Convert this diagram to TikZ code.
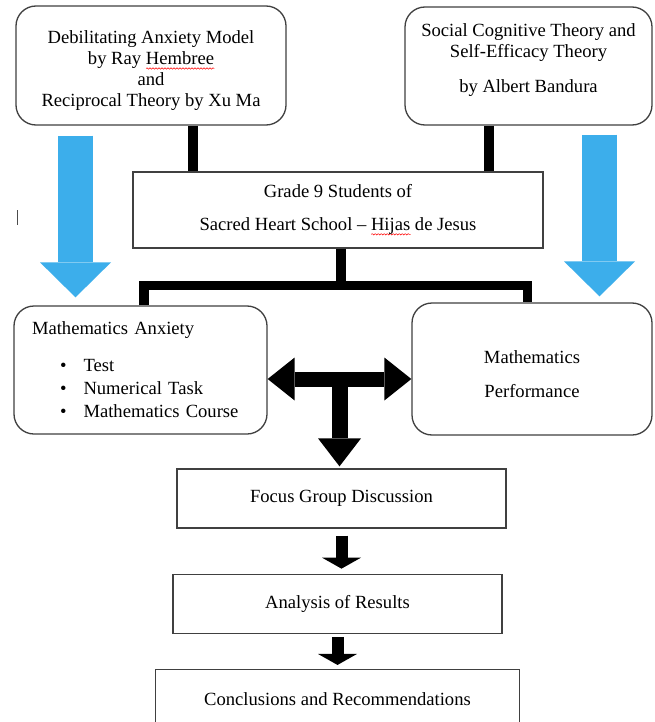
\documentclass[tikz,border=0pt]{standalone}
\usepackage{fontspec}
\setmainfont{Liberation Serif}
\usetikzlibrary{arrows.meta, calc, positioning, decorations.pathmorphing}
\definecolor{arrowblue}{RGB}{60,174,235}
\newsavebox{\spellbox}
\newcommand{\spellmark}[1]{\sbox{\spellbox}{#1}%
    \rlap{\tikz[baseline=0pt]\draw[red, sharp corners, line width=0.5pt, decorate, decoration={snake, amplitude=0.7pt, segment length=3pt}]
        (0pt,-3.5pt) -- (\wd\spellbox,-3.5pt);}\usebox{\spellbox}}
\tikzset{
        round box/.style={
		draw=black!75,
		line width=1.3pt,
		rounded corners=20pt,
		align=center,
		minimum width={#1},
	  },
        flat box/.style={
		draw=black!75,
		line width=1.3pt,
		align=center,
		minimum width={#1},
		minimum height=59pt,
	  },
        link/.style={line width=9.5pt}, % thick black joining bars
        sky arrow/.style={arrowblue, line width=35pt, -{Triangle[width=71pt, length=35pt, line width=0pt]}},
        fat link/.style={line width=15pt}, % the T shaped arrow
        flow arrow/.style={line width=12pt, -{Triangle[width=39pt, length=11pt, line width=0pt]}},
    }

\begin{document}
\begin{tikzpicture}[x=1pt, y=-1pt, every node/.style={font=\fontsize{18.6}{21}\selectfont}]
    \useasboundingbox[fill=white] (0,0) rectangle (654,722);

    % theories
    \node [round box=270pt, minimum height=119pt] (hembree) at (151,65.5)
        {\rule{0pt}{24pt}Debilitating Anxiety Model\\ by Ray \spellmark{Hembree}\\ and\\ Reciprocal Theory by Xu Ma};
    \node [round box=247pt, minimum height=118pt] (bandura) at (528.5,66)
        {Social Cognitive Theory and\\ Self-Efficacy Theory\\[14pt] by Albert Bandura\rule[-16pt]{0pt}{1pt}};

    % respondents
    \node [flat box=410pt, minimum height=76pt] (students) at (338,210)
        {Grade 9 Students of\\[12pt] Sacred Heart School -- \spellmark{Hijas} de Jesus};

    % variables
    \node [round box=253pt, minimum height=128pt, align=left, text width=217pt, inner xsep=18pt] (anxiety) at (140.5,370)
        {Mathematics Anxiety\\[16pt]
         \hspace*{28pt}\textbullet\hspace{17pt}Test\\[2pt]
         \hspace*{28pt}\textbullet\hspace{17pt}Numerical Task\\[2pt]
         \hspace*{28pt}\textbullet\hspace{17pt}Mathematics Course};
    \node [round box=240pt, minimum height=132pt] (performance) at (532,369)
        {\rule{0pt}{23pt}Mathematics\\[13pt] Performance};

    % procedure
    \node [flat box=329pt] (focus) at (341.5,498.5) {Focus Group Discussion};
    \node [flat box=329pt, below=45pt of focus, xshift=-4pt] (analysis) {Analysis of Results};
    \node [flat box=364pt, below=35pt of analysis] (conclusions) {Conclusions and Recommendations};

    \draw [black!70, line width=1pt] (17,210) -- (17,225);

    % joining bars
    \coordinate (bar) at (341,285.5);
    \draw [link] ([xshift=42pt]hembree.south) -- ([xshift=42pt]hembree.south |- students.north);
    \draw [link] ([xshift=-39.5pt]bandura.south) -- ([xshift=-39.5pt]bandura.south |- students.north);
    \draw [link] ([xshift=3pt]students.south) -- ([xshift=3pt]students.south |- bar);
    \draw [link] ([xshift=3.5pt]anxiety.north) |- (bar) -| ([xshift=-4.5pt]performance.north);

    % blue arrows
    \draw [sky arrow, shorten <=10pt, shorten >=8pt] ([xshift=-75.5pt]hembree.south) -- ([xshift=-65pt]anxiety.north);
    \draw [sky arrow, shorten <=9pt, shorten >=6pt] ([xshift=71pt]bandura.south) -- ([xshift=67.5pt]performance.north);

    % T arrow
    \coordinate (hub) at ($(anxiety.east)!0.5!(performance.west) + (0,9.5)$);
    \draw [fat link, {Triangle[width=43pt, length=27pt, line width=0pt]}-{Triangle[width=43pt, length=27pt, line width=0pt]}]
        (anxiety.east |- hub) -- (performance.west |- hub);
    \draw [fat link, line width=16pt, -{Triangle[width=43pt, length=28pt, line width=0pt]}, shorten >=2pt]
        (hub) -- (hub |- focus.north);

    \draw [flow arrow, shorten <=7pt, shorten >=5pt] (focus.south) -- (focus.south |- analysis.north);
    \draw [flow arrow, shorten <=3pt, shorten >=4pt] (analysis.south) -- (analysis.south |- conclusions.north);
  \end{tikzpicture}
\end{document}
